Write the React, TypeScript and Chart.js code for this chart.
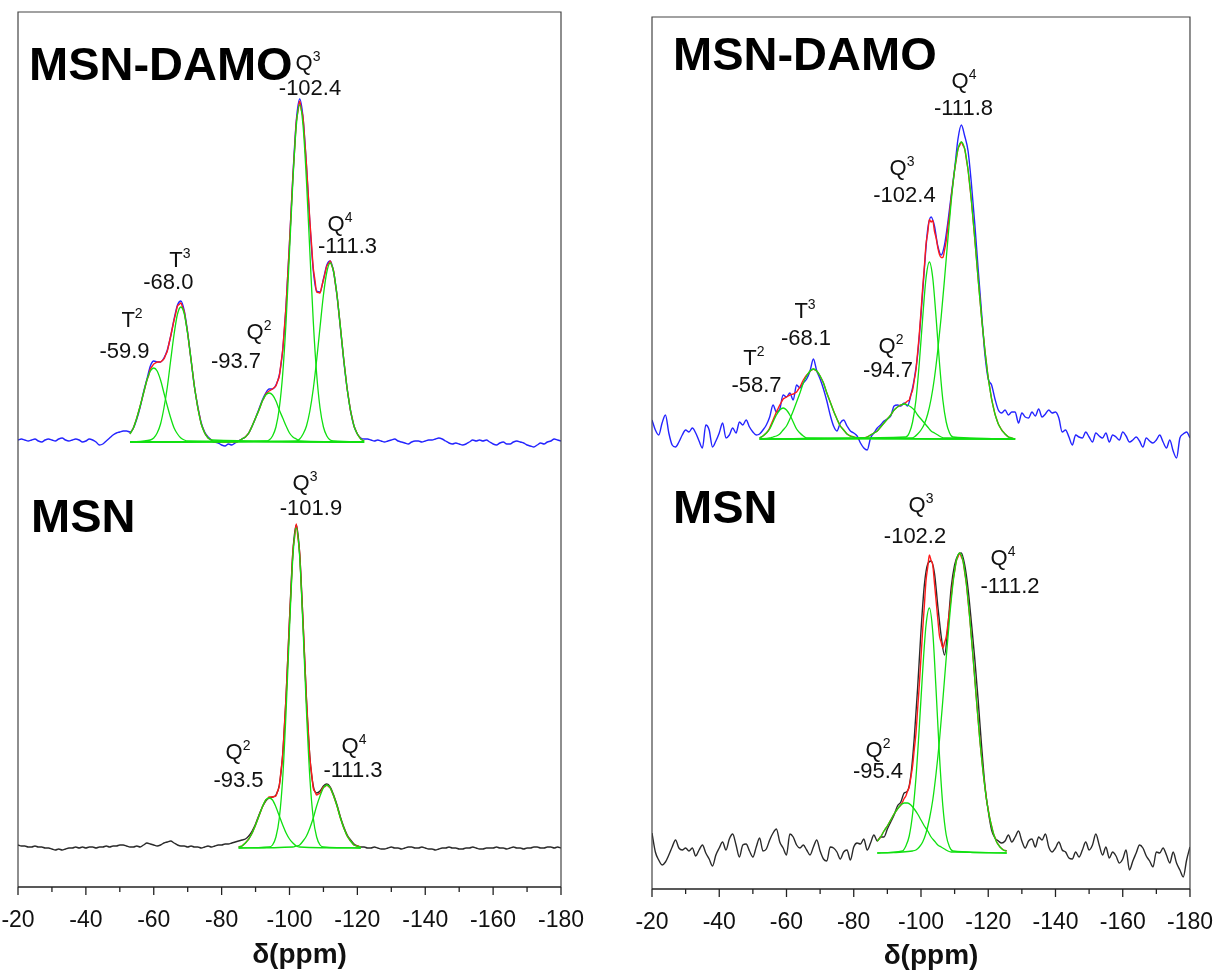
import React, { useEffect, useRef } from "react";
import { Chart, registerables } from "chart.js";

Chart.register(...registerables);

// ---------- axis ----------
const PPM_START = -20; // first point of every experimental trace, step -1 ppm
const X_MIN = -180;
const X_MAX = -20;
const MINOR_STEP = 10;
const X_TICK_LABELS = [-20, -40, -60, -80, -100, -120, -140, -160, -180];
const X_TITLE = "δ(ppm)";

// ---------- LEFT panel ----------
const LEFT_DAMO_OFFSET = 406;
// MSN-DAMO experimental (blue), -20 .. -180 ppm
const LT_EXP = [
  2, 3, 2, 1, 2, 3, 1, 0, 2, 3,
  2, 1, 3, 4, 2, 1, 2, 3, 2, 0,
  1, 3, 2, 0, -3, -2, 1, 4, 7, 9,
  10, 11, 11, 10, 14, 23, 35, 50, 63, 76,
  81, 80, 80, 84, 92, 106, 123, 137, 141, 131,
  109, 82, 55, 35, 19, 10, 5, 2, 0, -1,
  -3, -4, -2, -3, -1, 1, 3, 5, 9, 16,
  24, 33, 42, 49, 53, 53, 57, 67, 92, 137,
  199, 266, 321, 343, 324, 276, 219, 172, 151, 150,
  163, 177, 181, 170, 146, 114, 81, 53, 31, 16,
  8, 4, 3, 3, 2, 1, 2, 1, 0, 1,
  2, 3, 1, 0, -1, -2, 0, 1, 1, 0,
  1, 2, 2, 3, 4, 3, 1, -1, -2, -1,
  -2, -3, -2, 0, 2, 1, 2, 1, 2, 0,
  -2, -3, -1, 0, -2, -2, 0, 1, 0, -1,
  -3, -4, -5, -3, -1, -2, 0, 1, 3, 2,
  1,
];
const LT_FIT_RANGE = [-53, -122];
const LT_T2 = { start: -53, values: [8, 14, 24, 36, 49, 62, 71, 74, 71, 62, 49, 36, 24, 14, 8, 4, 2, 1] };
const LT_T3 = { start: -59, values: [2, 4, 9, 18, 34, 55, 82, 108, 128, 135, 128, 108, 82, 55, 34, 18, 9, 4, 2] };
const LT_Q2 = { start: -85, values: [1, 3, 5, 9, 16, 24, 32, 41, 47, 49, 47, 41, 32, 24, 16, 9, 5, 3, 1] };
const LT_Q3 = { start: -93, values: [1, 2, 6, 15, 34, 68, 121, 190, 261, 316, 337, 316, 261, 190, 121, 68, 34, 15, 6, 2, 1] };
const LT_Q4 = { start: -102, values: [1, 3, 8, 16, 31, 53, 82, 115, 147, 170, 179, 170, 147, 115, 82, 53, 31, 16, 8, 3, 1] };

// MSN experimental (black)
const LB_EXP = [
  3, 2, 2, 1, 1, 2, 1, 1, 0, 0,
  -1, -2, -1, -2, -1, 0, 0, 1, 0, 1,
  0, 1, 1, 0, 1, 1, 2, 1, 2, 2,
  3, 3, 2, 1, 1, 2, 1, 3, 5, 4,
  3, 2, 3, 5, 6, 7, 5, 3, 2, 2,
  1, 2, 1, 1, 0, 1, 2, 1, 2, 3,
  3, 4, 4, 5, 6, 7, 8, 9, 12, 17,
  24, 33, 41, 47, 50, 51, 53, 63, 94, 152,
  228, 296, 323, 294, 225, 148, 91, 62, 55, 57,
  62, 64, 61, 53, 43, 31, 21, 13, 8, 4,
  2, 1, 1, 0, 0, 1, 0, -1, -1, 0,
  1, 0, 0, -1, 0, 1, 1, 0, 0, 1,
  0, -1, -1, -2, -1, 0, 0, 1, 0, 0,
  -1, -1, 0, 0, 1, 0, -1, -1, 0, 0,
  0, 1, 0, 0, -1, 0, 1, 0, 0, -1,
  0, 0, 1, 1, 0, 0, 1, 1, 0, 1,
  0,
];
const LB_FIT_RANGE = [-85, -121];
const LB_Q2 = { start: -85, values: [1, 2, 5, 9, 15, 23, 32, 41, 48, 50, 48, 41, 32, 23, 15, 9, 5, 2, 1] };
const LB_Q3 = { start: -94, values: [1, 3, 11, 30, 70, 137, 219, 291, 320, 291, 219, 137, 70, 30, 11, 3, 1] };
const LB_Q4 = { start: -101, values: [1, 2, 3, 7, 12, 20, 30, 42, 52, 60, 63, 60, 52, 42, 30, 20, 12, 7, 3, 2, 1] };

// ---------- RIGHT panel ----------
const RIGHT_DAMO_OFFSET = 414;
const RT_EXP = [
  19, 9, 4, 16, 24, 6, -6, -8, -3, 4,
  9, 7, 11, 6, -2, -9, 14, 9, -8, -2,
  6, 16, 1, 4, 11, 6, 17, 14, 19, 12,
  7, 4, 5, 9, 14, 22, 34, 27, 30, 44,
  42, 46, 39, 54, 51, 56, 60, 68, 80, 68,
  60, 50, 38, 24, 13, 8, 16, 19, 13, 8,
  6, 3, -4, -9, -11, 1, 6, 11, 14, 18,
  20, 23, 33, 34, 33, 36, 33, 44, 60, 84,
  124, 170, 210, 222, 213, 193, 184, 194, 217, 244,
  270, 300, 314, 303, 288, 255, 215, 170, 127, 85,
  60, 54, 40, 29, 26, 29, 24, 27, 27, 16,
  26, 22, 21, 27, 23, 30, 22, 25, 29, 26,
  27, 21, 7, 9, 2, -6, 4, 2, 1, 7,
  2, -3, 6, 3, 1, 6, -3, 4, 2, -1,
  7, 3, -3, -1, 2, -2, -8, 1, -2, -4,
  -1, 4, -3, -9, -1, -12, -19, 1, 5, 7,
  1,
];
const RT_FIT_RANGE = [-52, -128];
const RT_T2 = { start: -52, values: [1, 3, 6, 10, 17, 24, 29, 31, 29, 24, 17, 10, 6, 3, 1] };
const RT_T3 = { start: -55, values: [1, 2, 3, 5, 9, 13, 20, 28, 37, 46, 56, 63, 68, 70, 68, 63, 56, 46, 37, 28, 20, 13, 9, 5, 3, 2, 1] };
const RT_Q2 = { start: -82, values: [1, 1, 2, 4, 6, 8, 12, 16, 20, 24, 29, 32, 34, 35, 34, 32, 29, 24, 20, 16, 12, 8, 6, 4, 2, 1, 1] };
const RT_Q3 = { start: -95.5, values: [2, 6, 17, 39, 76, 121, 161, 177, 161, 121, 76, 39, 17, 6, 2] };
const RT_Q4 = { start: -97, values: [1, 2, 5, 9, 15, 25, 40, 61, 89, 122, 160, 200, 238, 269, 290, 297, 290, 269, 238, 200, 160, 122, 89, 61, 40, 25, 15, 9, 5, 2, 1] };

const RB_EXP = [
  20, 1, -7, -12, -9, -2, 6, 13, 5, 3,
  5, 2, 5, -3, 3, 8, 0, -6, -13, -2,
  5, 11, 3, 14, 19, 8, -4, 8, 9, 2,
  -4, 6, 15, 2, 4, 13, 20, 24, 11, 5,
  -2, 19, 16, 8, 5, 8, 3, -2, 6, 13,
  2, -6, -8, 6, 5, 1, -6, 1, 3, -7,
  6, 10, 9, 14, 3, 10, 18, 12, 16, 16,
  24, 31, 38, 47, 51, 60, 62, 78, 115, 165,
  222, 268, 289, 292, 280, 247, 217, 198, 226, 266,
  288, 298, 300, 288, 264, 230, 194, 153, 108, 68,
  42, 23, 15, 12, 10, 12, 18, 11, 16, 22,
  12, 5, 12, 14, 6, 16, 13, 19, 6, 1,
  5, 11, 3, 1, -5, -6, 1, -4, 3, 11,
  3, 8, 19, 8, -2, 6, -5, 1, -3, -10,
  -6, 3, -17, -8, 0, 8, 5, -3, -8, -14,
  1, 0, 5, -2, -10, 1, -10, -17, -24, -7,
  6,
];
const RB_FIT_RANGE = [-87, -125.5];
const RB_Q2 = { start: -87, values: [12, 16, 22, 27, 33, 39, 44, 48, 50, 50, 48, 44, 39, 33, 27, 22, 16, 12, 8, 6, 4, 2, 1, 1] };
const RB_Q3 = { start: -94.5, values: [2, 7, 17, 39, 75, 126, 182, 228, 245, 221, 162, 97, 47, 18, 6, 2] };
const RB_Q4 = { start: -97.5, values: [2, 3, 6, 11, 20, 34, 53, 80, 113, 153, 195, 235, 269, 292, 300, 292, 269, 235, 195, 153, 113, 80, 53, 34, 20, 11, 6, 3, 2] };

// ---------- annotations (ppm, intensity in panel units) ----------
const LEFT_LABELS = [
  { name: "MSN-DAMO", ppm: -23.24, v: 768 },
  { base: "Q", sup: "3", ppm: -105.45, v: 778 },
  { text: "-102.4", ppm: -106.04, v: 753 },
  { base: "T", sup: "3", ppm: -67.73, v: 581 },
  { text: "-68.0", ppm: -64.29, v: 559 },
  { base: "T", sup: "2", ppm: -53.59, v: 521 },
  { text: "-59.9", ppm: -51.38, v: 490 },
  { base: "Q", sup: "2", ppm: -91.01, v: 509 },
  { text: "-93.7", ppm: -84.23, v: 480 },
  { base: "Q", sup: "4", ppm: -114.88, v: 617 },
  { text: "-111.3", ppm: -117.09, v: 595 },
  { name: "MSN", ppm: -23.83, v: 316 },
  { base: "Q", sup: "3", ppm: -104.56, v: 358 },
  { text: "-101.9", ppm: -106.33, v: 333 },
  { base: "Q", sup: "2", ppm: -84.82, v: 89 },
  { text: "-93.5", ppm: -84.97, v: 61 },
  { base: "Q", sup: "4", ppm: -119.0, v: 95 },
  { text: "-111.3", ppm: -118.71, v: 71 },
];
const RIGHT_LABELS = [
  { name: "MSN-DAMO", ppm: -26.25, v: 783 },
  { base: "Q", sup: "4", ppm: -112.79, v: 765 },
  { text: "-111.8", ppm: -112.64, v: 738 },
  { base: "Q", sup: "3", ppm: -94.35, v: 678 },
  { text: "-102.4", ppm: -95.09, v: 651 },
  { base: "T", sup: "3", ppm: -65.5, v: 535 },
  { text: "-68.1", ppm: -65.8, v: 508 },
  { base: "T", sup: "2", ppm: -50.33, v: 488 },
  { text: "-58.7", ppm: -51.08, v: 461 },
  { base: "Q", sup: "2", ppm: -91.08, v: 500 },
  { text: "-94.7", ppm: -90.19, v: 476 },
  { name: "MSN", ppm: -26.25, v: 330 },
  { base: "Q", sup: "3", ppm: -100.0, v: 341 },
  { text: "-102.2", ppm: -98.22, v: 310 },
  { base: "Q", sup: "4", ppm: -124.39, v: 288 },
  { text: "-111.2", ppm: -126.47, v: 260 },
  { base: "Q", sup: "2", ppm: -87.21, v: 96 },
  { text: "-95.4", ppm: -87.21, v: 75 },
];

const FONT = "Arial, 'Liberation Sans', Helvetica, sans-serif";
const BLUE = "#2424ff";
const BLACK = "#2a2a2a";
const RED = "#ff1a1a";
const GREEN = "#10e010";

type Comp = { start: number; values: number[] };
type Spectrum = { exp: number[]; color: string; offset: number; range: number[]; comps: Comp[] };

function compAt(c: Comp, d: number) {
  const p = c.start - d;
  if (p < -1e-9 || p > c.values.length - 1 + 1e-9) return 0;
  const i = Math.min(Math.floor(p + 1e-9), c.values.length - 1);
  const f = p - i;
  const a = c.values[i];
  const b = i + 1 < c.values.length ? c.values[i + 1] : a;
  return a + (b - a) * f;
}

function buildDatasets(specs: Spectrum[]) {
  const ds: any[] = [];
  const common = { pointRadius: 0, fill: false, cubicInterpolationMode: "monotone" };
  specs.forEach((s) => {
    ds.push({
      ...common,
      data: s.exp.map((v, i) => ({ x: PPM_START - i, y: v + s.offset })),
      borderColor: s.color,
      borderWidth: 1.4,
      order: 3,
    });
    const [from, to] = s.range;
    const fit: { x: number; y: number }[] = [];
    for (let d = from; d >= to - 1e-9; d -= 0.5) {
      let sum = 0;
      s.comps.forEach((c) => (sum += compAt(c, d)));
      fit.push({ x: d, y: sum + s.offset });
    }
    ds.push({ ...common, data: fit, borderColor: RED, borderWidth: 1.4, order: 2 });
    s.comps.forEach((c) => {
      const pts = c.values.map((v, i) => ({ x: c.start - i, y: v + s.offset }));
      const end = c.start - (c.values.length - 1);
      if (c.start < from) pts.unshift({ x: from, y: s.offset });
      if (end > to) pts.push({ x: to, y: s.offset });
      ds.push({ ...common, data: pts, borderColor: GREEN, borderWidth: 1.3, order: 1 });
    });
  });
  return ds;
}

function makeConfig(p: any) {
  const decor = {
    id: "decor",
    afterDraw(chart: any) {
      const { ctx, chartArea: a, scales } = chart;
      const xs = scales.x;
      const ys = scales.y;
      ctx.save();
      // frame
      ctx.strokeStyle = "#444";
      ctx.lineWidth = 1.2;
      ctx.beginPath();
      ctx.moveTo(a.left, a.bottom);
      ctx.lineTo(a.left, a.top);
      ctx.lineTo(a.right, a.top);
      ctx.lineTo(a.right, a.bottom);
      ctx.stroke();
      ctx.strokeStyle = "#222";
      ctx.lineWidth = 1.6;
      ctx.beginPath();
      ctx.moveTo(a.left, a.bottom);
      ctx.lineTo(a.right, a.bottom);
      ctx.stroke();
      // tick marks
      ctx.lineWidth = 1.3;
      for (let v = X_MAX; v >= X_MIN; v -= MINOR_STEP) {
        const px = xs.getPixelForValue(v);
        const major = X_TICK_LABELS.includes(v);
        ctx.beginPath();
        ctx.moveTo(px, a.bottom);
        ctx.lineTo(px, a.bottom + (major ? 8 : 5));
        ctx.stroke();
      }
      // axis title
      ctx.fillStyle = "#111";
      ctx.font = `bold 28px ${FONT}`;
      ctx.textAlign = "center";
      ctx.textBaseline = "middle";
      ctx.fillText(X_TITLE, (a.left + a.right) / 2 + p.titleShift, p.titleY);
      // annotations
      ctx.textBaseline = "alphabetic";
      p.labels.forEach((l: any) => {
        const x = xs.getPixelForValue(l.ppm);
        const y = ys.getPixelForValue(l.v);
        if (l.name) {
          ctx.textAlign = "left";
          ctx.fillStyle = "#000";
          ctx.font = `bold 47px ${FONT}`;
          ctx.fillText(l.name, x, y);
        } else if (l.text) {
          ctx.textAlign = "center";
          ctx.fillStyle = "#111";
          ctx.font = `22px ${FONT}`;
          ctx.fillText(l.text, x, y);
        } else {
          ctx.textAlign = "left";
          ctx.fillStyle = "#111";
          ctx.font = `22px ${FONT}`;
          const wb = ctx.measureText(l.base).width;
          ctx.font = `14px ${FONT}`;
          const wsup = ctx.measureText(l.sup).width;
          const left = x - (wb + wsup) / 2;
          ctx.font = `22px ${FONT}`;
          ctx.fillText(l.base, left, y);
          ctx.font = `14px ${FONT}`;
          ctx.fillText(l.sup, left + wb, y - 9);
        }
      });
      ctx.restore();
    },
  };
  return {
    type: "line",
    data: { datasets: buildDatasets(p.spectra) },
    options: {
      responsive: false,
      animation: false,
      devicePixelRatio: 1,
      layout: { padding: p.padding },
      plugins: { legend: { display: false }, tooltip: { enabled: false } },
      events: [],
      scales: {
        x: {
          type: "linear",
          min: X_MIN,
          max: X_MAX,
          reverse: true,
          afterFit: (s: any) => {
            s.height = p.axisHeight;
          },
          grid: { display: false },
          border: { display: false },
          ticks: {
            stepSize: MINOR_STEP,
            autoSkip: false,
            maxRotation: 0,
            padding: 12,
            color: "#111",
            font: { size: 23, family: FONT },
            callback: (v: any) => {
              const r = Math.round(Number(v));
              return X_TICK_LABELS.includes(r) ? String(r) : "";
            },
          },
        },
        y: { display: false, min: p.yMin, max: p.yMax },
      },
    },
    plugins: [decor],
  };
}

const LEFT_PANEL = {
  spectra: [
    { exp: LT_EXP, color: BLUE, offset: LEFT_DAMO_OFFSET, range: LT_FIT_RANGE, comps: [LT_T2, LT_T3, LT_Q2, LT_Q3, LT_Q4] },
    { exp: LB_EXP, color: BLACK, offset: 0, range: LB_FIT_RANGE, comps: [LB_Q2, LB_Q3, LB_Q4] },
  ],
  labels: LEFT_LABELS,
  yMin: -39,
  yMax: 836,
  padding: { left: 58, right: 51, top: 12, bottom: 0 },
  axisHeight: 84,
  titleShift: 10,
  titleY: 955,
};

const RIGHT_PANEL = {
  spectra: [
    { exp: RT_EXP, color: BLUE, offset: RIGHT_DAMO_OFFSET, range: RT_FIT_RANGE, comps: [RT_T2, RT_T3, RT_Q2, RT_Q3, RT_Q4] },
    { exp: RB_EXP, color: BLACK, offset: 0, range: RB_FIT_RANGE, comps: [RB_Q2, RB_Q3, RB_Q4] },
  ],
  labels: RIGHT_LABELS,
  yMin: -36,
  yMax: 836,
  padding: { left: 40, right: 35, top: 17, bottom: 0 },
  axisHeight: 82,
  titleShift: 10,
  titleY: 956,
};

function Panel({ panel, left, width }: { panel: any; left: number; width: number }) {
  const ref = useRef<HTMLCanvasElement>(null);
  useEffect(() => {
    const chart = new Chart(ref.current as HTMLCanvasElement, makeConfig(panel) as any);
    return () => chart.destroy();
  }, [panel]);
  return (
    <canvas
      ref={ref}
      width={width}
      height={971}
      style={{ position: "absolute", left, top: 0, width, height: 971 }}
    />
  );
}

export default function App() {
  return (
    <div style={{ position: "absolute", left: 0, top: 0, width: 1225, height: 971, background: "#fff", overflow: "hidden" }}>
      <Panel panel={LEFT_PANEL} left={-40} width={652} />
      <Panel panel={RIGHT_PANEL} left={612} width={613} />
    </div>
  );
}
